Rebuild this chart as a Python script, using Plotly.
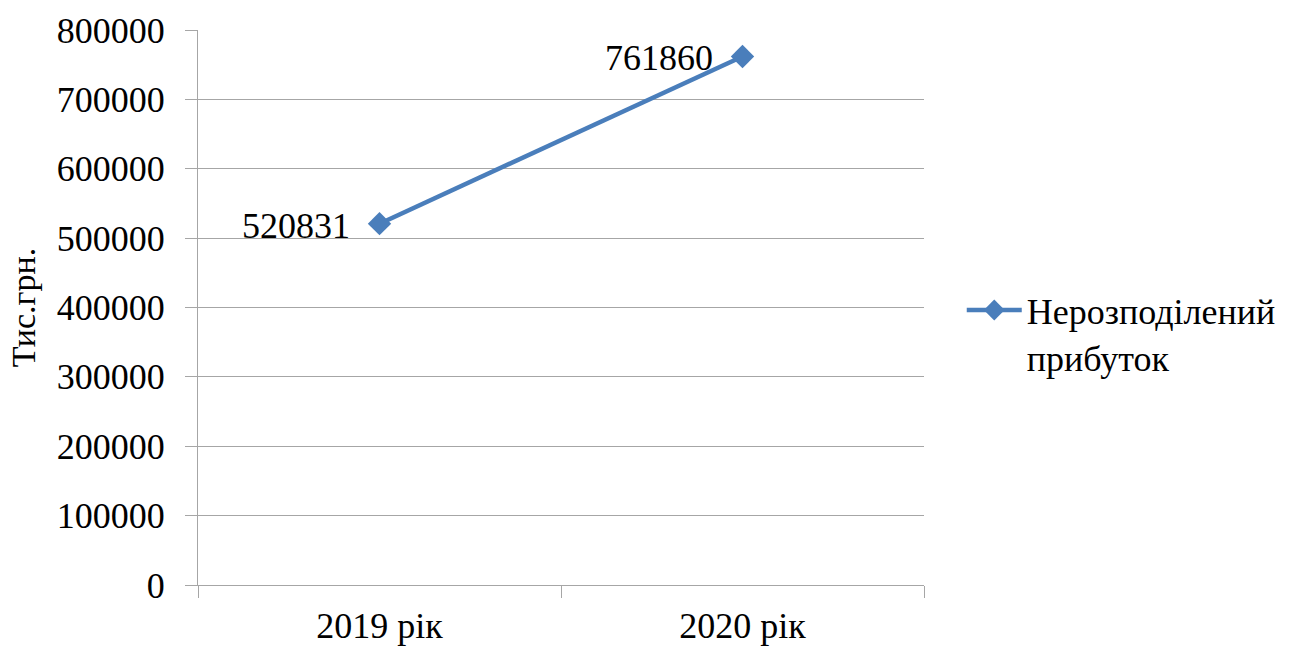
import plotly.graph_objects as go

# Undistributed profit by year, thousand UAH
years = ["2019 рік", "2020 рік"]
profit = [520831, 761860]
series_name = "Нерозподілений<br>прибуток"
y_ticks = [0, 100000, 200000, 300000, 400000, 500000, 600000, 700000, 800000]

blue = "#4A7EBB"
grid = "#A6A6A6"
font_family = "Liberation Serif"
fs = 36

fig = go.Figure()
fig.add_trace(go.Scatter(
    x=years,
    y=profit,
    mode="lines+markers",
    name=series_name,
    line=dict(color=blue, width=4.5),
    marker=dict(symbol="diamond", size=18, color=blue),
    cliponaxis=False,
))

# value labels to the left of each point
for yr, v in zip(years, profit):
    fig.add_annotation(
        x=yr, y=v, text=str(v), showarrow=False,
        xanchor="right", yanchor="middle", xshift=-28, yshift=-2,
        font=dict(family=font_family, size=fs, color="#000000"),
    )

fig.update_layout(
    width=1299,
    height=648,
    margin=dict(l=198, r=375, t=30, b=63),
    paper_bgcolor="white",
    plot_bgcolor="white",
    font=dict(family=font_family, size=fs, color="#000000"),
    showlegend=True,
    legend=dict(
        x=1.052, y=0.453, xanchor="left", yanchor="middle",
        font=dict(family=font_family, size=fs),
        itemwidth=55,
        valign="top",
        bgcolor="rgba(0,0,0,0)",
    ),
)

fig.update_xaxes(
    type="category",
    range=[-0.5, 1.5],
    tickson="boundaries",
    ticks="outside",
    ticklen=12,
    tickcolor=grid,
    showline=True,
    linecolor=grid,
    linewidth=1,
    showgrid=False,
    automargin=False,
    ticklabelstandoff=9,
    tickfont=dict(family=font_family, size=fs),
)

fig.update_yaxes(
    range=[0, 800000],
    tickvals=y_ticks,
    ticktext=[str(v) for v in y_ticks],
    ticks="outside",
    ticklen=12,
    tickcolor=grid,
    showline=True,
    linecolor=grid,
    linewidth=1,
    showgrid=True,
    gridcolor=grid,
    gridwidth=1,
    zeroline=False,
    automargin=False,
    ticklabelstandoff=13,
    tickfont=dict(family=font_family, size=fs),
    title=dict(text="Тис.грн.", font=dict(family=font_family, size=34), standoff=10),
)

fig.write_html("out.html")
